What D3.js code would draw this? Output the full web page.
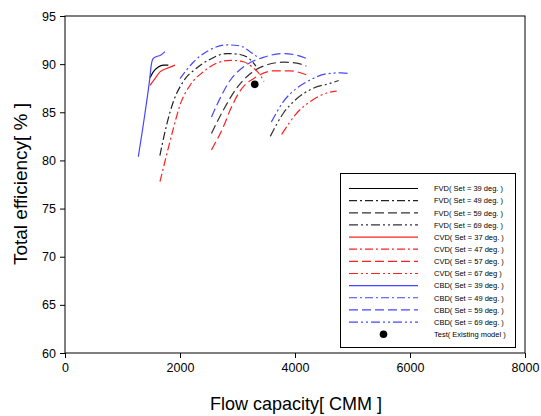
<!DOCTYPE html>
<html>
<head>
<meta charset="utf-8">
<script src="https://cdn.jsdelivr.net/npm/d3@7"></script>
<style>
  body { margin: 0; background: #fff; }
  svg { display: block; font-family: "Liberation Sans", Arial, sans-serif; }
</style>
</head>
<body>
<script>
// flow [CMM], efficiency [%]
var fvd39 = [[1478, 88.6], [1536, 89.2], [1623, 89.7], [1710, 89.9], [1797, 89.9]];
var fvd49 = [[1650, 80.5], [1768, 83.7], [1884, 86.1], [2057, 88.2], [2290, 89.6], [2522, 90.5], [2812, 91.1], [3043, 91.0], [3217, 90.5], [3320, 89.8]];
var fvd59 = [[2547, 82.8], [2769, 85.4], [3009, 87.7], [3200, 88.9], [3449, 89.8], [3797, 90.2], [4030, 90.1], [4197, 89.8]];
var fvd69 = [[3570, 82.5], [3797, 84.9], [4029, 86.4], [4318, 87.5], [4609, 88.0], [4760, 88.3]];

var cvd37 = [[1478, 87.8], [1565, 88.5], [1652, 89.2], [1768, 89.55], [1913, 89.9]];
var cvd47 = [[1652, 77.8], [1768, 80.6], [1884, 83.3], [2000, 85.75], [2174, 87.8], [2405, 89.2], [2638, 90.1], [2870, 90.4], [3101, 90.25], [3275, 89.6], [3391, 88.9], [3460, 88.2]];
var cvd57 = [[2547, 81.1], [2769, 83.7], [2870, 85.2], [3043, 87.2], [3334, 88.7], [3623, 89.3], [3913, 89.3], [4197, 88.9]];
var cvd67 = [[3768, 82.7], [4029, 84.9], [4261, 86.1], [4551, 87.0], [4725, 87.2]];

var cbd39 = [[1275, 80.4], [1391, 84.9], [1478, 88.7], [1500, 89.9], [1536, 90.6], [1595, 90.8], [1652, 90.9], [1740, 91.3]];
var cbd49 = [[2000, 88.5], [2231, 90.2], [2492, 91.4], [2812, 92.0], [3043, 91.9], [3217, 91.3], [3334, 90.8]];
var cbd59 = [[2547, 84.5], [2709, 86.6], [2870, 88.3], [3101, 89.7], [3449, 90.7], [3797, 91.1], [3969, 91.0], [4197, 90.6]];
var cbd69 = [[3590, 84.0], [3797, 86.1], [4029, 87.5], [4261, 88.35], [4551, 89.0], [4809, 89.1], [4960, 89.0]];

var testPoint = [[3300, 87.9]];

var xTicks = [0, 2000, 4000, 6000, 8000];
var yTicks = [60, 65, 70, 75, 80, 85, 90, 95];

var series = [
  { name: "FVD( Set = 39 deg. )", data: fvd39, color: "#000", dash: null },
  { name: "FVD( Set = 49 deg. )", data: fvd49, color: "#222", dash: "8,3,2,3" },
  { name: "FVD( Set = 59 deg. )", data: fvd59, color: "#333", dash: "9,4" },
  { name: "FVD( Set = 69 deg. )", data: fvd69, color: "#333", dash: "9,3,2,3,2,3" },
  { name: "CVD( Set = 37 deg. )", data: cvd37, color: "#ff2020", dash: null },
  { name: "CVD( Set = 47 deg. )", data: cvd47, color: "#ff2020", dash: "8,3,2,3" },
  { name: "CVD( Set = 57 deg. )", data: cvd57, color: "#ff2020", dash: "9,4" },
  { name: "CVD( Set = 67 deg  )", data: cvd67, color: "#ff2020", dash: "9,3,2,3,2,3" },
  { name: "CBD( Set = 39 deg. )", data: cbd39, color: "#4646ff", dash: null },
  { name: "CBD( Set = 49 deg. )", data: cbd49, color: "#4646ff", dash: "8,3,2,3" },
  { name: "CBD( Set = 59 deg. )", data: cbd59, color: "#4646ff", dash: "9,4" },
  { name: "CBD( Set = 69 deg. )", data: cbd69, color: "#4646ff", dash: "9,3,2,3,2,3" }
];

var w = 541;
var h = 416;
var pLeft = 65, pRight = 525, pTop = 16, pBottom = 353;

var svg = d3.select("body")
  .append("svg")
  .attr("width", w)
  .attr("height", h);

var x = d3.scaleLinear().domain([0, 8000]).range([pLeft, pRight]);
var y = d3.scaleLinear().domain([60, 95]).range([pBottom, pTop]);

// frame
svg.append("rect")
  .attr("x", pLeft)
  .attr("y", pTop)
  .attr("width", pRight - pLeft)
  .attr("height", pBottom - pTop)
  .attr("fill", "none")
  .attr("stroke", "#000")
  .attr("stroke-width", 1);

var xAxis = svg.append("g")
  .attr("transform", "translate(0," + pBottom + ")")
  .call(d3.axisBottom(x).tickValues(xTicks).tickSize(5).tickPadding(5).tickFormat(d3.format("d")));

var yAxis = svg.append("g")
  .attr("transform", "translate(" + pLeft + ",0)")
  .call(d3.axisLeft(y).tickValues(yTicks).tickSize(5).tickPadding(4));

[xAxis, yAxis].forEach(function(a) {
  a.select(".domain").remove();
  a.selectAll("text")
    .attr("font-family", "Liberation Sans, Arial, sans-serif")
    .attr("font-size", "12.5px")
    .attr("fill", "#000");
});

var line = d3.line()
  .x(function(d) { return x(d[0]); })
  .y(function(d) { return y(d[1]); })
  .curve(d3.curveMonotoneX);

svg.selectAll("path.curve")
  .data(series)
  .enter()
  .append("path")
  .attr("class", "curve")
  .attr("d", function(d) { return line(d.data); })
  .attr("fill", "none")
  .attr("stroke", function(d) { return d.color; })
  .attr("stroke-width", 1.2)
  .attr("stroke-dasharray", function(d) { return d.dash; });

svg.selectAll("circle.test")
  .data(testPoint)
  .enter()
  .append("circle")
  .attr("class", "test")
  .attr("cx", function(d) { return x(d[0]); })
  .attr("cy", function(d) { return y(d[1]); })
  .attr("r", 3.8)
  .attr("fill", "#000");

// axis titles
svg.append("text")
  .text("Flow capacity[ CMM ]")
  .attr("x", 210)
  .attr("y", 410)
  .attr("textLength", 172)
  .attr("lengthAdjust", "spacingAndGlyphs")
  .attr("font-size", "19px")
  .attr("fill", "#000");

svg.append("text")
  .text("Total efficiency[ % ]")
  .attr("transform", "translate(27,265) rotate(-90)")
  .attr("textLength", 162)
  .attr("lengthAdjust", "spacingAndGlyphs")
  .attr("font-size", "19px")
  .attr("fill", "#000");

// legend
var lg = svg.append("g");
lg.append("rect")
  .attr("x", 340.5)
  .attr("y", 173.5)
  .attr("width", 175)
  .attr("height", 174)
  .attr("fill", "#fff")
  .attr("stroke", "#000")
  .attr("stroke-width", 1);

var rowY = function(i) { return 188.5 + i * 12.14; };

lg.selectAll("line.sample")
  .data(series)
  .enter()
  .append("line")
  .attr("class", "sample")
  .attr("x1", 349)
  .attr("x2", 418)
  .attr("y1", function(d, i) { return rowY(i); })
  .attr("y2", function(d, i) { return rowY(i); })
  .attr("stroke", function(d) { return d.color; })
  .attr("stroke-width", 1.2)
  .attr("stroke-dasharray", function(d) { return d.dash; });

var names = series.map(function(d) { return d.name; }).concat(["Test( Existing model )"]);

lg.selectAll("text.name")
  .data(names)
  .enter()
  .append("text")
  .attr("class", "name")
  .text(function(d) { return d; })
  .attr("x", 434)
  .attr("y", function(d, i) { return rowY(i) + 2.8; })
  .attr("font-family", "Liberation Sans Narrow, Arial Narrow, Liberation Sans, sans-serif")
  .attr("font-size", "7.5px")
  .attr("fill", "#000");

lg.append("circle")
  .attr("cx", 383.5)
  .attr("cy", rowY(12))
  .attr("r", 3.8)
  .attr("fill", "#000");
</script>
</body>
</html>
